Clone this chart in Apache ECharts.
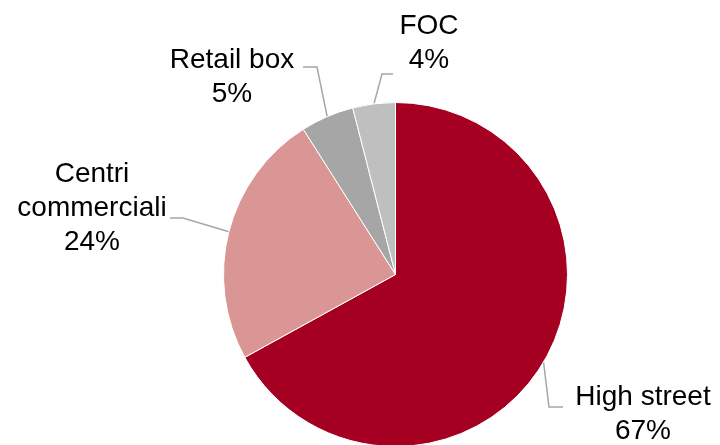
<!DOCTYPE html>
<html>
<head>
<meta charset="utf-8">
<script src="https://cdn.jsdelivr.net/npm/echarts@6/dist/echarts.min.js"></script>
<style>
  html, body { margin: 0; padding: 0; background: #fff; }
  #chart { width: 720px; height: 445px; }
</style>
</head>
<body>
<div id="chart"></div>
<script>
const categories = ['High street', 'Centri\ncommerciali', 'Retail box', 'FOC']
const shares = [67, 24, 5, 4]
const colors = ['#A50021', '#D99694', '#A6A6A6', '#BFBFBF']

// label placement: block centre, leader end offset (from centre), elbow offset (from end)
const labelSpots = [
  { x: 643, y: 414, end: [-80, -7], elbow: -14 },
  { x: 92, y: 208, end: [78, 10], elbow: 13 },
  { x: 232, y: 77, end: [71, -10], elbow: 14 },
  { x: 429, y: 43, end: [-36, 31], elbow: -11 }
]

const chart = echarts.init(document.getElementById('chart'))

chart.setOption({
  animation: false,
  series: [{
    type: 'pie',
    center: [395.5, 274.5],
    radius: [0, 172],
    startAngle: 90,
    clockwise: true,
    data: categories.map((name, i) => ({
      name,
      value: shares[i],
      itemStyle: { color: colors[i] }
    })),
    itemStyle: { borderColor: '#fff', borderWidth: 1 },
    label: {
      show: true,
      position: 'outside',
      formatter: '{b}\n{c}%',
      fontFamily: 'Liberation Sans, Arial, sans-serif',
      fontSize: 28,
      lineHeight: 34,
      color: '#000',
      align: 'center'
    },
    labelLine: {
      show: true,
      length: 10,
      length2: 10,
      lineStyle: { color: '#A6A6A6', width: 1.5 }
    },
    labelLayout: (params) => {
      const s = labelSpots[params.dataIndex]
      const p0 = params.labelLinePoints ? params.labelLinePoints[0] : [s.x, s.y]
      const end = [s.x + s.end[0], s.y + s.end[1]]
      const elbow = [end[0] + s.elbow, end[1]]
      return {
        x: s.x,
        y: s.y,
        align: 'center',
        verticalAlign: 'middle',
        labelLinePoints: [p0, elbow, end]
      }
    }
  }]
})
</script>
</body>
</html>
